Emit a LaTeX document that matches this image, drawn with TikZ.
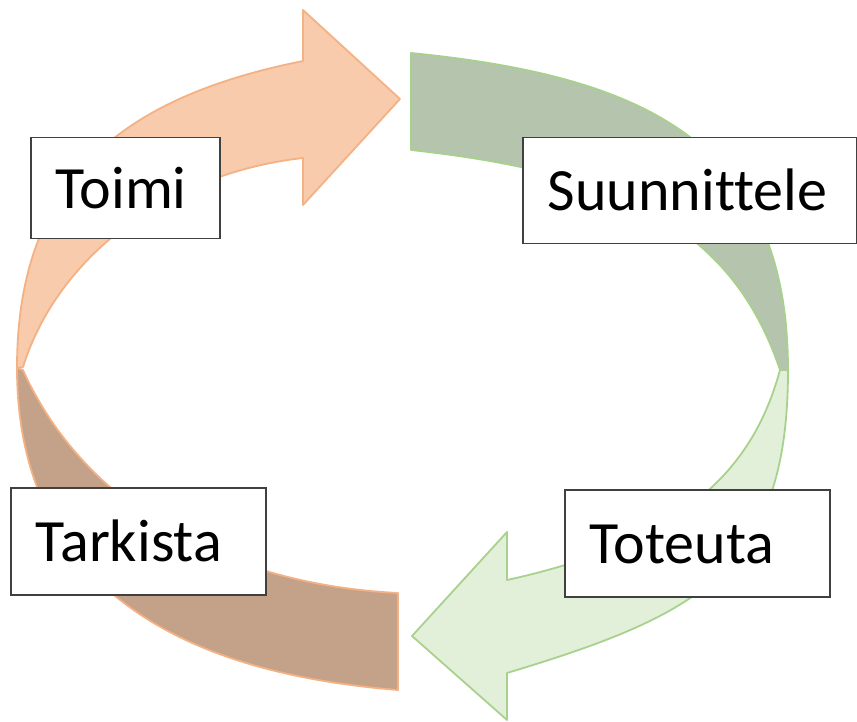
\documentclass[tikz,border=0pt]{standalone}
\usepackage{fontspec}
\setmainfont[Ligatures=NoCommon]{Carlito}
\definecolor{toimifill}{HTML}{F8CBAD}
\definecolor{tarkfill}{HTML}{C4A189}
\definecolor{orangeline}{HTML}{F4B183}
\definecolor{suunfill}{HTML}{B5C4AD}
\definecolor{totfill}{HTML}{E2F0D9}
\definecolor{greenline}{HTML}{A9D18E}
\definecolor{boxline}{HTML}{404040}

\begin{document}
\begin{tikzpicture}[x=1pt,y=-1pt,
    lbl/.style={draw=boxline, line width=1.5pt, fill=white, anchor=north west,
      inner xsep=25pt, inner ysep=0pt, text height=40pt, text depth=0pt,
      align=left, font=\fontsize{60}{72}\selectfont},
    orangepart/.style={draw=orangeline, line width=1.8pt, line join=round},
    greenpart/.style={draw=greenline, line width=1.8pt, line join=round}]
  \useasboundingbox (0,0) rectangle (857,722);
  \filldraw[orangepart, fill=tarkfill] (17,368) .. controls (17,628) and (250,678) .. (398,690)
    -- (398,593) .. controls (220,584) and (82.5,502) .. (23,370) -- cycle;
  \filldraw[orangepart, fill=toimifill] (23,367) .. controls (57.9,255.7) and (168.6,173.1) .. (303,158)
    -- (303,205) -- (400,99) -- (303,10) -- (303,61)
    .. controls (118,98) and (17,183) .. (17,368) -- cycle;
  \filldraw[greenpart, fill=suunfill] (411,53) .. controls (641,76) and (788,140) .. (788,370)
    -- (780,370) .. controls (732,227.5) and (621,173) .. (411,150) -- cycle;
  \filldraw[greenpart, fill=totfill] (788,370) .. controls (788,570) and (699,615) .. (507,673)
    -- (507,720) -- (412,636) -- (507,532) -- (507,580)
    .. controls (690,540) and (754,465) .. (780,370) -- cycle;
  \node[lbl, text width=139pt, minimum height=101pt] (toimi) at (30,137) {Toimi};
  \node[lbl, text width=284pt, minimum height=106pt] (suunnittele) at (522,137) {Suunnittele};
  \node[lbl, text width=205pt, minimum height=107pt] (tarkista) at (10,487) {Tarkista};
  \node[lbl, text width=215pt, minimum height=107pt] (toteuta) at (564,489) {Toteuta};
\end{tikzpicture}
\end{document}
